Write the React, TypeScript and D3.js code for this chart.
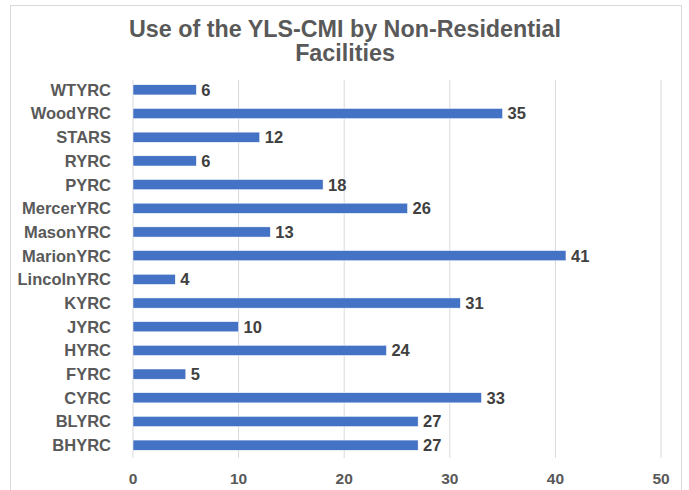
import React from "react";
import * as d3 from "d3";

const categories = ["WTYRC","WoodYRC","STARS","RYRC","PYRC","MercerYRC","MasonYRC","MarionYRC","LincolnYRC","KYRC","JYRC","HYRC","FYRC","CYRC","BLYRC","BHYRC"];
const values = [6,35,12,6,18,26,13,41,4,31,10,24,5,33,27,27];
const xTicks = [0,10,20,30,40,50];
const titleLines = ["Use of the YLS-CMI by Non-Residential", "Facilities"];

export default function App() {
  const W = 689, H = 490;
  const x = d3.scaleLinear().domain([0, 50]).range([133, 661]);
  const y = d3.scaleBand<string>().domain(categories).range([78, 457]).paddingInner(0.57).paddingOuter(0.285);
  const font = "'Liberation Sans', Arial, sans-serif";
  return (
    <svg width={W} height={H} style={{ position: "absolute", left: 0, top: 0, background: "#fff" }}>
      <rect x={10.5} y={5.5} width={671} height={500} fill="#fff" stroke="#d9d9d9" strokeWidth={1} />
      {titleLines.map((t, i) => (
        <text key={i} x={345} y={37 + i * 24} textAnchor="middle" fontFamily={font} fontWeight="bold" fontSize={23.3} fill="#595959">{t}</text>
      ))}
      {xTicks.map(t => (
        <line key={t} x1={x(t)} x2={x(t)} y1={80} y2={458} stroke="#d9d9d9" strokeWidth={1} />
      ))}
      {xTicks.map(t => (
        <text key={"l" + t} x={x(t)} y={484} textAnchor="middle" fontFamily={font} fontWeight="bold" fontSize={15.5} fill="#595959">{t}</text>
      ))}
      {categories.map((c, i) => {
        const yy = y(c)!;
        const bh = y.bandwidth();
        return (
          <g key={c}>
            <rect x={x(0)} y={yy} width={x(values[i]) - x(0)} height={bh} fill="#4472C4" stroke="#fff" strokeWidth={0.5} />
            <text x={111} y={yy + bh / 2} dy="0.36em" textAnchor="end" fontFamily={font} fontWeight="bold" fontSize={16.5} fill="#595959">{c}</text>
            <text x={x(values[i]) + 5} y={yy + bh / 2} dy="0.36em" fontFamily={font} fontWeight="bold" fontSize={16.5} fill="#404040">{values[i]}</text>
          </g>
        );
      })}
    </svg>
  );
}
